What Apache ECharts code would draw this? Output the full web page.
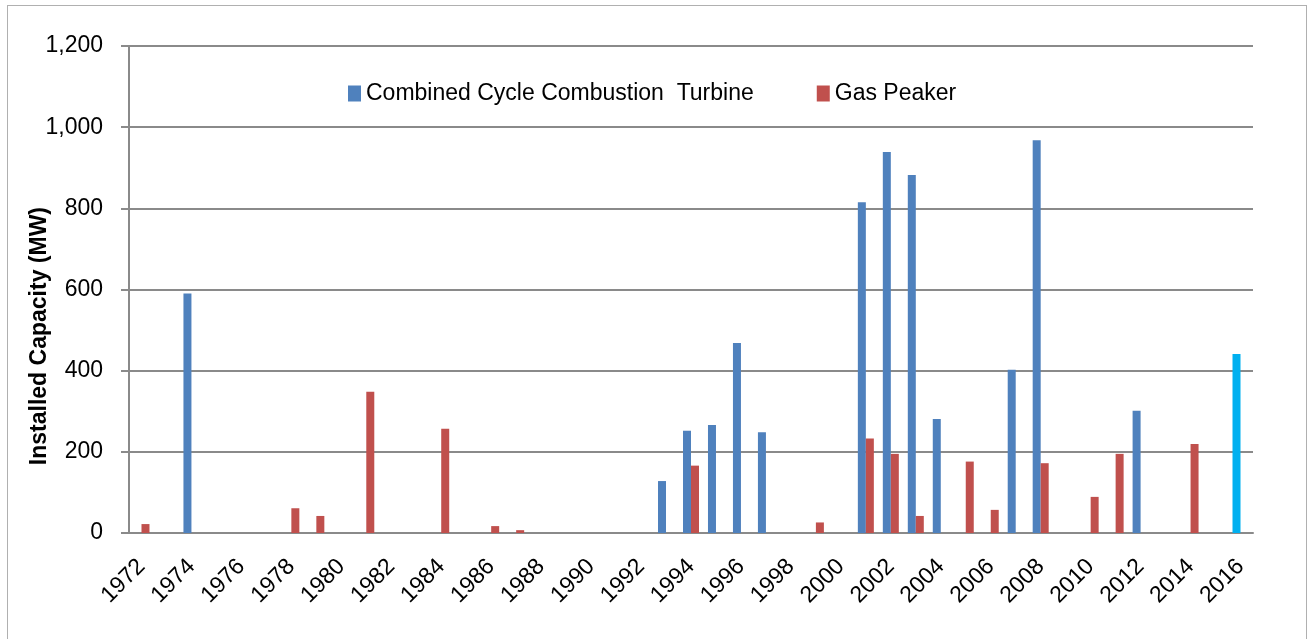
<!DOCTYPE html>
<html>
<head>
<meta charset="utf-8">
<script src="https://cdn.jsdelivr.net/npm/echarts@6/dist/echarts.min.js"></script>
<style>
    html, body { margin: 0; padding: 0; background: #fff; }
    #frame { position: absolute; left: 7px; top: 5px; width: 1298px; height: 700px; border: 1px solid #b0b0b0; }
    #chart { position: absolute; left: 0; top: 0; width: 1307px; height: 639px; }
</style>
</head>
<body>
<div id="frame"></div>
<div id="chart"></div>
<script>
// years on the category axis
const years = [];
for (let y = 1972; y <= 2016; y++) years.push(String(y));

// MW added per year (null = nothing that year)
const ccctByYear = {
    1974: 590, 1993: 128, 1994: 252, 1995: 266, 1996: 468, 1997: 248,
    2001: 815, 2002: 939, 2003: 882, 2004: 281, 2007: 402, 2008: 968,
    2012: 301, 2016: 441
};
const peakerByYear = {
    1972: 22, 1978: 61, 1979: 42, 1981: 348, 1984: 257, 1986: 17, 1987: 7,
    1994: 166, 1999: 26, 2001: 233, 2002: 195, 2003: 42, 2005: 176,
    2006: 57, 2008: 172, 2010: 89, 2011: 195, 2014: 219
};
const plannedYear = "2016"; // drawn in light blue

const yTicks = [0, 200, 400, 600, 800, 1000, 1200];

const blue = "#4F81BD";
const red = "#C0504D";
const cyan = "#00B0F0";
const gridGrey = "#8a8a8a";

const ccctData = years.map(y => {
    const v = ccctByYear[y];
    if (v == null) return null;
    if (y === plannedYear) return { value: v, itemStyle: { color: cyan } };
    return v;
});
const peakerData = years.map(y => peakerByYear[y] == null ? null : peakerByYear[y]);

const chart = echarts.init(document.getElementById("chart"), null, { renderer: "canvas" });

chart.setOption({
    animation: false,
    textStyle: { fontFamily: "Liberation Sans" },
    grid: { left: 129, right: 54, top: 46, bottom: 106, containLabel: false },
    legend: {
        left: 343,
        top: 77,
        icon: "rect",
        itemWidth: 13,
        itemHeight: 16,
        itemGap: 63,
        textStyle: { fontSize: 23, color: "#000", fontFamily: "Liberation Sans" },
        data: ["Combined Cycle Combustion  Turbine", "Gas Peaker"]
    },
    graphic: [{
        type: "text",
        left: 28,
        top: 207,
        rotation: Math.PI / 2,
        style: {
            text: "Installed Capacity (MW)",
            font: "bold 23px Liberation Sans",
            fill: "#000"
        }
    }],
    xAxis: {
        type: "category",
        data: years,
        boundaryGap: true,
        axisLine: { lineStyle: { color: gridGrey, width: 2 } },
        axisTick: { interval: 0, length: 8, lineStyle: { color: gridGrey, width: 2 } },
        axisLabel: {
            interval: 1,
            rotate: 45,
            margin: 30,
            fontSize: 23,
            color: "#000",
            fontFamily: "Liberation Sans"
        }
    },
    yAxis: {
        type: "value",
        min: yTicks[0],
        max: yTicks[yTicks.length - 1],
        interval: 200,
        axisLine: { show: true, lineStyle: { color: gridGrey, width: 2 } },
        axisTick: { show: true, length: 8, lineStyle: { color: gridGrey, width: 2 } },
        splitLine: { lineStyle: { color: gridGrey, width: 2 } },
        axisLabel: {
            margin: 26,
            fontSize: 23,
            color: "#000",
            fontFamily: "Liberation Sans",
            formatter: v => v.toLocaleString("en-US")
        }
    },
    series: [
        {
            name: "Combined Cycle Combustion  Turbine",
            type: "bar",
            data: ccctData,
            barWidth: 8,
            barGap: "0%",
            itemStyle: { color: blue }
        },
        {
            name: "Gas Peaker",
            type: "bar",
            data: peakerData,
            barWidth: 8,
            itemStyle: { color: red }
        }
    ]
});
</script>
</body>
</html>
